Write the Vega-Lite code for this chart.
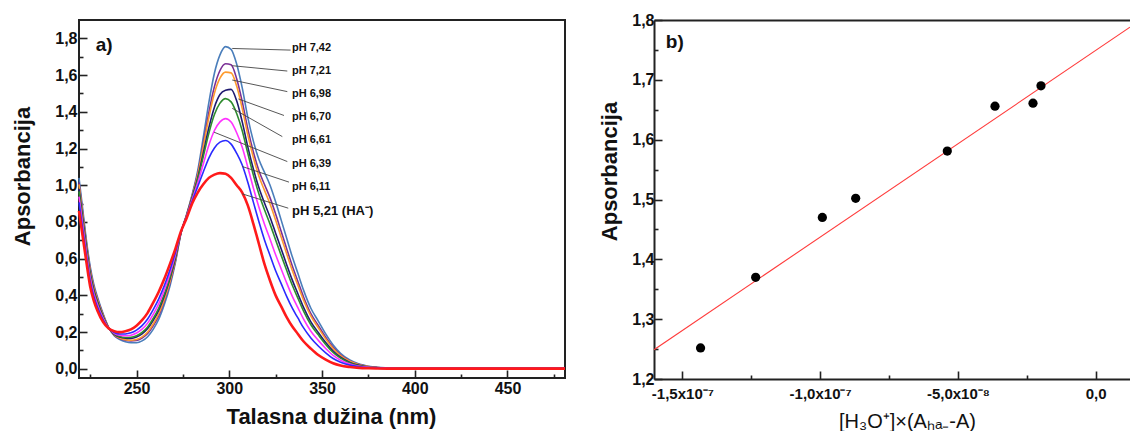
{
"$schema":"https://vega.github.io/schema/vega-lite/v6.json",
"padding":{"left":10,"top":12,"right":0,"bottom":0},
"background":"white",
"spacing":26,
"config":{"font":"Liberation Sans","view":{"stroke":null}},
"datasets":{
"spectra":[
{"w":219,"p":"7,42","a":1.04},{"w":221,"p":"7,42","a":0.87},{"w":223,"p":"7,42","a":0.70},{"w":225,"p":"7,42","a":0.56},{"w":227,"p":"7,42","a":0.46},{"w":229,"p":"7,42","a":0.39},{"w":232,"p":"7,42","a":0.30},{"w":235,"p":"7,42","a":0.225},{"w":238,"p":"7,42","a":0.18},{"w":241,"p":"7,42","a":0.16},{"w":244,"p":"7,42","a":0.148},{"w":247,"p":"7,42","a":0.142},{"w":250,"p":"7,42","a":0.142},{"w":253,"p":"7,42","a":0.152},{"w":256,"p":"7,42","a":0.175},{"w":259,"p":"7,42","a":0.215},{"w":262,"p":"7,42","a":0.27},{"w":265,"p":"7,42","a":0.35},{"w":268,"p":"7,42","a":0.45},{"w":271,"p":"7,42","a":0.58},{"w":274,"p":"7,42","a":0.74},{"w":277,"p":"7,42","a":0.84},{"w":280,"p":"7,42","a":0.95},{"w":283,"p":"7,42","a":1.08},{"w":286,"p":"7,42","a":1.26},{"w":289,"p":"7,42","a":1.45},{"w":292,"p":"7,42","a":1.61},{"w":295,"p":"7,42","a":1.71},{"w":298,"p":"7,42","a":1.755},{"w":301,"p":"7,42","a":1.74},{"w":304,"p":"7,42","a":1.66},{"w":307,"p":"7,42","a":1.53},{"w":310,"p":"7,42","a":1.37},{"w":313,"p":"7,42","a":1.24},{"w":316,"p":"7,42","a":1.14},{"w":319,"p":"7,42","a":1.07},{"w":322,"p":"7,42","a":1.00},{"w":325,"p":"7,42","a":0.91},{"w":328,"p":"7,42","a":0.81},{"w":331,"p":"7,42","a":0.71},{"w":334,"p":"7,42","a":0.61},{"w":337,"p":"7,42","a":0.52},{"w":340,"p":"7,42","a":0.43},{"w":344,"p":"7,42","a":0.33},{"w":348,"p":"7,42","a":0.26},{"w":352,"p":"7,42","a":0.19},{"w":356,"p":"7,42","a":0.13},{"w":360,"p":"7,42","a":0.085},{"w":365,"p":"7,42","a":0.048},{"w":370,"p":"7,42","a":0.026},{"w":375,"p":"7,42","a":0.014},{"w":380,"p":"7,42","a":0.008},{"w":390,"p":"7,42","a":0.004},{"w":400,"p":"7,42","a":0.003},{"w":440,"p":"7,42","a":0.003},{"w":481,"p":"7,42","a":0.003},
{"w":219,"p":"7,21","a":1.016},{"w":221,"p":"7,21","a":0.85},{"w":223,"p":"7,21","a":0.684},{"w":225,"p":"7,21","a":0.545},{"w":227,"p":"7,21","a":0.448},{"w":229,"p":"7,21","a":0.38},{"w":232,"p":"7,21","a":0.294},{"w":235,"p":"7,21","a":0.224},{"w":238,"p":"7,21","a":0.183},{"w":241,"p":"7,21","a":0.165},{"w":244,"p":"7,21","a":0.156},{"w":247,"p":"7,21","a":0.152},{"w":250,"p":"7,21","a":0.154},{"w":253,"p":"7,21","a":0.167},{"w":256,"p":"7,21","a":0.192},{"w":259,"p":"7,21","a":0.234},{"w":262,"p":"7,21","a":0.29},{"w":265,"p":"7,21","a":0.369},{"w":268,"p":"7,21","a":0.466},{"w":271,"p":"7,21","a":0.59},{"w":274,"p":"7,21","a":0.741},{"w":277,"p":"7,21","a":0.837},{"w":280,"p":"7,21","a":0.943},{"w":283,"p":"7,21","a":1.064},{"w":286,"p":"7,21","a":1.226},{"w":289,"p":"7,21","a":1.396},{"w":292,"p":"7,21","a":1.537},{"w":295,"p":"7,21","a":1.625},{"w":298,"p":"7,21","a":1.662},{"w":301,"p":"7,21","a":1.656},{"w":304,"p":"7,21","a":1.58},{"w":307,"p":"7,21","a":1.455},{"w":310,"p":"7,21","a":1.307},{"w":313,"p":"7,21","a":1.181},{"w":316,"p":"7,21","a":1.079},{"w":319,"p":"7,21","a":1.004},{"w":322,"p":"7,21","a":0.931},{"w":325,"p":"7,21","a":0.843},{"w":328,"p":"7,21","a":0.748},{"w":331,"p":"7,21","a":0.653},{"w":334,"p":"7,21","a":0.56},{"w":337,"p":"7,21","a":0.476},{"w":340,"p":"7,21","a":0.393},{"w":344,"p":"7,21","a":0.301},{"w":348,"p":"7,21","a":0.236},{"w":352,"p":"7,21","a":0.172},{"w":356,"p":"7,21","a":0.117},{"w":360,"p":"7,21","a":0.076},{"w":365,"p":"7,21","a":0.043},{"w":370,"p":"7,21","a":0.023},{"w":375,"p":"7,21","a":0.013},{"w":380,"p":"7,21","a":0.007},{"w":390,"p":"7,21","a":0.004},{"w":400,"p":"7,21","a":0.003},{"w":440,"p":"7,21","a":0.003},{"w":481,"p":"7,21","a":0.003},
{"w":219,"p":"6,98","a":1.005},{"w":221,"p":"6,98","a":0.84},{"w":223,"p":"6,98","a":0.676},{"w":225,"p":"6,98","a":0.538},{"w":227,"p":"6,98","a":0.442},{"w":229,"p":"6,98","a":0.375},{"w":232,"p":"6,98","a":0.291},{"w":235,"p":"6,98","a":0.224},{"w":238,"p":"6,98","a":0.185},{"w":241,"p":"6,98","a":0.168},{"w":244,"p":"6,98","a":0.159},{"w":247,"p":"6,98","a":0.156},{"w":250,"p":"6,98","a":0.16},{"w":253,"p":"6,98","a":0.174},{"w":256,"p":"6,98","a":0.201},{"w":259,"p":"6,98","a":0.244},{"w":262,"p":"6,98","a":0.30},{"w":265,"p":"6,98","a":0.378},{"w":268,"p":"6,98","a":0.474},{"w":271,"p":"6,98","a":0.595},{"w":274,"p":"6,98","a":0.742},{"w":277,"p":"6,98","a":0.836},{"w":280,"p":"6,98","a":0.94},{"w":283,"p":"6,98","a":1.056},{"w":286,"p":"6,98","a":1.21},{"w":289,"p":"6,98","a":1.369},{"w":292,"p":"6,98","a":1.501},{"w":295,"p":"6,98","a":1.583},{"w":298,"p":"6,98","a":1.616},{"w":301,"p":"6,98","a":1.612},{"w":304,"p":"6,98","a":1.54},{"w":307,"p":"6,98","a":1.418},{"w":310,"p":"6,98","a":1.275},{"w":313,"p":"6,98","a":1.151},{"w":316,"p":"6,98","a":1.049},{"w":319,"p":"6,98","a":0.972},{"w":322,"p":"6,98","a":0.898},{"w":325,"p":"6,98","a":0.81},{"w":328,"p":"6,98","a":0.717},{"w":331,"p":"6,98","a":0.625},{"w":334,"p":"6,98","a":0.535},{"w":337,"p":"6,98","a":0.455},{"w":340,"p":"6,98","a":0.375},{"w":344,"p":"6,98","a":0.287},{"w":348,"p":"6,98","a":0.224},{"w":352,"p":"6,98","a":0.162},{"w":356,"p":"6,98","a":0.11},{"w":360,"p":"6,98","a":0.072},{"w":365,"p":"6,98","a":0.041},{"w":370,"p":"6,98","a":0.022},{"w":375,"p":"6,98","a":0.012},{"w":380,"p":"6,98","a":0.007},{"w":390,"p":"6,98","a":0.004},{"w":400,"p":"6,98","a":0.003},{"w":440,"p":"6,98","a":0.003},{"w":481,"p":"6,98","a":0.003},
{"w":219,"p":"6,70","a":0.98},{"w":221,"p":"6,70","a":0.82},{"w":223,"p":"6,70","a":0.66},{"w":225,"p":"6,70","a":0.523},{"w":227,"p":"6,70","a":0.43},{"w":229,"p":"6,70","a":0.365},{"w":232,"p":"6,70","a":0.285},{"w":235,"p":"6,70","a":0.223},{"w":238,"p":"6,70","a":0.188},{"w":241,"p":"6,70","a":0.173},{"w":244,"p":"6,70","a":0.167},{"w":247,"p":"6,70","a":0.166},{"w":250,"p":"6,70","a":0.173},{"w":253,"p":"6,70","a":0.19},{"w":256,"p":"6,70","a":0.219},{"w":259,"p":"6,70","a":0.264},{"w":262,"p":"6,70","a":0.32},{"w":265,"p":"6,70","a":0.397},{"w":268,"p":"6,70","a":0.49},{"w":271,"p":"6,70","a":0.605},{"w":274,"p":"6,70","a":0.743},{"w":277,"p":"6,70","a":0.833},{"w":280,"p":"6,70","a":0.933},{"w":283,"p":"6,70","a":1.04},{"w":286,"p":"6,70","a":1.175},{"w":289,"p":"6,70","a":1.313},{"w":292,"p":"6,70","a":1.425},{"w":295,"p":"6,70","a":1.494},{"w":298,"p":"6,70","a":1.517},{"w":301,"p":"6,70","a":1.522},{"w":304,"p":"6,70","a":1.46},{"w":307,"p":"6,70","a":1.345},{"w":310,"p":"6,70","a":1.209},{"w":313,"p":"6,70","a":1.089},{"w":316,"p":"6,70","a":0.986},{"w":319,"p":"6,70","a":0.903},{"w":322,"p":"6,70","a":0.826},{"w":325,"p":"6,70","a":0.739},{"w":328,"p":"6,70","a":0.653},{"w":331,"p":"6,70","a":0.566},{"w":334,"p":"6,70","a":0.483},{"w":337,"p":"6,70","a":0.409},{"w":340,"p":"6,70","a":0.336},{"w":344,"p":"6,70","a":0.256},{"w":348,"p":"6,70","a":0.198},{"w":352,"p":"6,70","a":0.143},{"w":356,"p":"6,70","a":0.097},{"w":360,"p":"6,70","a":0.063},{"w":365,"p":"6,70","a":0.035},{"w":370,"p":"6,70","a":0.019},{"w":375,"p":"6,70","a":0.01},{"w":380,"p":"6,70","a":0.006},{"w":390,"p":"6,70","a":0.003},{"w":400,"p":"6,70","a":0.003},{"w":440,"p":"6,70","a":0.003},{"w":481,"p":"6,70","a":0.003},
{"w":219,"p":"6,61","a":0.967},{"w":221,"p":"6,61","a":0.809},{"w":223,"p":"6,61","a":0.651},{"w":225,"p":"6,61","a":0.515},{"w":227,"p":"6,61","a":0.423},{"w":229,"p":"6,61","a":0.359},{"w":232,"p":"6,61","a":0.282},{"w":235,"p":"6,61","a":0.223},{"w":238,"p":"6,61","a":0.19},{"w":241,"p":"6,61","a":0.176},{"w":244,"p":"6,61","a":0.171},{"w":247,"p":"6,61","a":0.172},{"w":250,"p":"6,61","a":0.18},{"w":253,"p":"6,61","a":0.198},{"w":256,"p":"6,61","a":0.228},{"w":259,"p":"6,61","a":0.274},{"w":262,"p":"6,61","a":0.331},{"w":265,"p":"6,61","a":0.407},{"w":268,"p":"6,61","a":0.499},{"w":271,"p":"6,61","a":0.611},{"w":274,"p":"6,61","a":0.744},{"w":277,"p":"6,61","a":0.832},{"w":280,"p":"6,61","a":0.93},{"w":283,"p":"6,61","a":1.031},{"w":286,"p":"6,61","a":1.156},{"w":289,"p":"6,61","a":1.283},{"w":292,"p":"6,61","a":1.385},{"w":295,"p":"6,61","a":1.447},{"w":298,"p":"6,61","a":1.472},{"w":301,"p":"6,61","a":1.454},{"w":304,"p":"6,61","a":1.391},{"w":307,"p":"6,61","a":1.297},{"w":310,"p":"6,61","a":1.174},{"w":313,"p":"6,61","a":1.056},{"w":316,"p":"6,61","a":0.952},{"w":319,"p":"6,61","a":0.866},{"w":322,"p":"6,61","a":0.788},{"w":325,"p":"6,61","a":0.702},{"w":328,"p":"6,61","a":0.618},{"w":331,"p":"6,61","a":0.535},{"w":334,"p":"6,61","a":0.455},{"w":337,"p":"6,61","a":0.385},{"w":340,"p":"6,61","a":0.316},{"w":344,"p":"6,61","a":0.24},{"w":348,"p":"6,61","a":0.185},{"w":352,"p":"6,61","a":0.133},{"w":356,"p":"6,61","a":0.089},{"w":360,"p":"6,61","a":0.058},{"w":365,"p":"6,61","a":0.032},{"w":370,"p":"6,61","a":0.017},{"w":375,"p":"6,61","a":0.01},{"w":380,"p":"6,61","a":0.006},{"w":390,"p":"6,61","a":0.003},{"w":400,"p":"6,61","a":0.003},{"w":440,"p":"6,61","a":0.003},{"w":481,"p":"6,61","a":0.003},
{"w":219,"p":"6,39","a":0.938},{"w":221,"p":"6,39","a":0.785},{"w":223,"p":"6,39","a":0.632},{"w":225,"p":"6,39","a":0.498},{"w":227,"p":"6,39","a":0.409},{"w":229,"p":"6,39","a":0.348},{"w":232,"p":"6,39","a":0.275},{"w":235,"p":"6,39","a":0.222},{"w":238,"p":"6,39","a":0.194},{"w":241,"p":"6,39","a":0.183},{"w":244,"p":"6,39","a":0.18},{"w":247,"p":"6,39","a":0.183},{"w":250,"p":"6,39","a":0.195},{"w":253,"p":"6,39","a":0.216},{"w":256,"p":"6,39","a":0.249},{"w":259,"p":"6,39","a":0.297},{"w":262,"p":"6,39","a":0.355},{"w":265,"p":"6,39","a":0.429},{"w":268,"p":"6,39","a":0.518},{"w":271,"p":"6,39","a":0.622},{"w":274,"p":"6,39","a":0.746},{"w":277,"p":"6,39","a":0.829},{"w":280,"p":"6,39","a":0.922},{"w":283,"p":"6,39","a":1.012},{"w":286,"p":"6,39","a":1.116},{"w":289,"p":"6,39","a":1.218},{"w":292,"p":"6,39","a":1.298},{"w":295,"p":"6,39","a":1.345},{"w":298,"p":"6,39","a":1.363},{"w":301,"p":"6,39","a":1.344},{"w":304,"p":"6,39","a":1.286},{"w":307,"p":"6,39","a":1.207},{"w":310,"p":"6,39","a":1.098},{"w":313,"p":"6,39","a":0.985},{"w":316,"p":"6,39","a":0.88},{"w":319,"p":"6,39","a":0.787},{"w":322,"p":"6,39","a":0.706},{"w":325,"p":"6,39","a":0.621},{"w":328,"p":"6,39","a":0.544},{"w":331,"p":"6,39","a":0.467},{"w":334,"p":"6,39","a":0.395},{"w":337,"p":"6,39","a":0.333},{"w":340,"p":"6,39","a":0.272},{"w":344,"p":"6,39","a":0.205},{"w":348,"p":"6,39","a":0.155},{"w":352,"p":"6,39","a":0.111},{"w":356,"p":"6,39","a":0.073},{"w":360,"p":"6,39","a":0.047},{"w":365,"p":"6,39","a":0.026},{"w":370,"p":"6,39","a":0.014},{"w":375,"p":"6,39","a":0.008},{"w":380,"p":"6,39","a":0.005},{"w":390,"p":"6,39","a":0.003},{"w":400,"p":"6,39","a":0.003},{"w":440,"p":"6,39","a":0.003},{"w":481,"p":"6,39","a":0.003},
{"w":219,"p":"6,11","a":0.907},{"w":221,"p":"6,11","a":0.759},{"w":223,"p":"6,11","a":0.612},{"w":225,"p":"6,11","a":0.479},{"w":227,"p":"6,11","a":0.394},{"w":229,"p":"6,11","a":0.335},{"w":232,"p":"6,11","a":0.267},{"w":235,"p":"6,11","a":0.221},{"w":238,"p":"6,11","a":0.198},{"w":241,"p":"6,11","a":0.19},{"w":244,"p":"6,11","a":0.19},{"w":247,"p":"6,11","a":0.196},{"w":250,"p":"6,11","a":0.211},{"w":253,"p":"6,11","a":0.235},{"w":256,"p":"6,11","a":0.271},{"w":259,"p":"6,11","a":0.322},{"w":262,"p":"6,11","a":0.381},{"w":265,"p":"6,11","a":0.453},{"w":268,"p":"6,11","a":0.538},{"w":271,"p":"6,11","a":0.635},{"w":274,"p":"6,11","a":0.747},{"w":277,"p":"6,11","a":0.825},{"w":280,"p":"6,11","a":0.913},{"w":283,"p":"6,11","a":0.992},{"w":286,"p":"6,11","a":1.072},{"w":289,"p":"6,11","a":1.148},{"w":292,"p":"6,11","a":1.203},{"w":295,"p":"6,11","a":1.235},{"w":298,"p":"6,11","a":1.244},{"w":301,"p":"6,11","a":1.224},{"w":304,"p":"6,11","a":1.174},{"w":307,"p":"6,11","a":1.11},{"w":310,"p":"6,11","a":1.016},{"w":313,"p":"6,11","a":0.908},{"w":316,"p":"6,11","a":0.801},{"w":319,"p":"6,11","a":0.702},{"w":322,"p":"6,11","a":0.617},{"w":325,"p":"6,11","a":0.534},{"w":328,"p":"6,11","a":0.464},{"w":331,"p":"6,11","a":0.393},{"w":334,"p":"6,11","a":0.33},{"w":337,"p":"6,11","a":0.277},{"w":340,"p":"6,11","a":0.224},{"w":344,"p":"6,11","a":0.168},{"w":348,"p":"6,11","a":0.124},{"w":352,"p":"6,11","a":0.087},{"w":356,"p":"6,11","a":0.056},{"w":360,"p":"6,11","a":0.036},{"w":365,"p":"6,11","a":0.02},{"w":370,"p":"6,11","a":0.011},{"w":375,"p":"6,11","a":0.006},{"w":380,"p":"6,11","a":0.004},{"w":390,"p":"6,11","a":0.002},{"w":400,"p":"6,11","a":0.002},{"w":440,"p":"6,11","a":0.002},{"w":481,"p":"6,11","a":0.002},
{"w":219,"p":"5,21","a":0.86},{"w":221,"p":"5,21","a":0.72},{"w":223,"p":"5,21","a":0.58},{"w":225,"p":"5,21","a":0.45},{"w":227,"p":"5,21","a":0.37},{"w":229,"p":"5,21","a":0.315},{"w":232,"p":"5,21","a":0.255},{"w":235,"p":"5,21","a":0.22},{"w":238,"p":"5,21","a":0.205},{"w":241,"p":"5,21","a":0.2},{"w":244,"p":"5,21","a":0.205},{"w":247,"p":"5,21","a":0.215},{"w":250,"p":"5,21","a":0.235},{"w":253,"p":"5,21","a":0.265},{"w":256,"p":"5,21","a":0.305},{"w":259,"p":"5,21","a":0.36},{"w":262,"p":"5,21","a":0.42},{"w":265,"p":"5,21","a":0.49},{"w":268,"p":"5,21","a":0.57},{"w":271,"p":"5,21","a":0.655},{"w":274,"p":"5,21","a":0.75},{"w":277,"p":"5,21","a":0.82},{"w":280,"p":"5,21","a":0.9},{"w":283,"p":"5,21","a":0.96},{"w":286,"p":"5,21","a":1.005},{"w":289,"p":"5,21","a":1.04},{"w":292,"p":"5,21","a":1.058},{"w":295,"p":"5,21","a":1.066},{"w":298,"p":"5,21","a":1.062},{"w":301,"p":"5,21","a":1.04},{"w":304,"p":"5,21","a":1.0},{"w":307,"p":"5,21","a":0.96},{"w":310,"p":"5,21","a":0.89},{"w":313,"p":"5,21","a":0.79},{"w":316,"p":"5,21","a":0.68},{"w":319,"p":"5,21","a":0.57},{"w":322,"p":"5,21","a":0.48},{"w":325,"p":"5,21","a":0.40},{"w":328,"p":"5,21","a":0.34},{"w":331,"p":"5,21","a":0.28},{"w":334,"p":"5,21","a":0.23},{"w":337,"p":"5,21","a":0.19},{"w":340,"p":"5,21","a":0.15},{"w":344,"p":"5,21","a":0.11},{"w":348,"p":"5,21","a":0.075},{"w":352,"p":"5,21","a":0.05},{"w":356,"p":"5,21","a":0.03},{"w":360,"p":"5,21","a":0.018},{"w":365,"p":"5,21","a":0.01},{"w":370,"p":"5,21","a":0.005},{"w":375,"p":"5,21","a":0.003},{"w":380,"p":"5,21","a":0.002},{"w":390,"p":"5,21","a":0.001},{"w":400,"p":"5,21","a":0.001},{"w":440,"p":"5,21","a":0.001},{"w":481,"p":"5,21","a":0.001}
],
"leaders":[
{"x1":301.6,"y1":1.745,"x2":333.1,"y2":1.736},
{"x1":301.6,"y1":1.651,"x2":331.3,"y2":1.622},
{"x1":301.6,"y1":1.573,"x2":331.3,"y2":1.51},
{"x1":304.9,"y1":1.47,"x2":329.5,"y2":1.38},
{"x1":301.6,"y1":1.419,"x2":328.6,"y2":1.265},
{"x1":291.8,"y1":1.289,"x2":331.3,"y2":1.129},
{"x1":307.0,"y1":1.102,"x2":332.2,"y2":1.017},
{"x1":307.0,"y1":0.953,"x2":331.8,"y2":0.875}
],
"phlabels":[
{"x":333.8,"y":1.7455,"t":"pH 7,42"},
{"x":333.8,"y":1.622,"t":"pH 7,21"},
{"x":333.8,"y":1.495,"t":"pH 6,98"},
{"x":333.8,"y":1.369,"t":"pH 6,70"},
{"x":333.8,"y":1.245,"t":"pH 6,61"},
{"x":333.8,"y":1.115,"t":"pH 6,39"},
{"x":333.8,"y":0.988,"t":"pH 6,11"},
{"x":333.8,"y":0.861,"t":"pH 5,21 (HA⁻)"}
],
"points":[
{"x":-1.434e-7,"y":1.252},{"x":-1.234e-7,"y":1.370},{"x":-0.992e-7,"y":1.470},{"x":-0.871e-7,"y":1.502},{"x":-0.5385e-7,"y":1.581},{"x":-0.3654e-7,"y":1.656},{"x":-0.2275e-7,"y":1.661},{"x":-0.1985e-7,"y":1.690}
],
"fit":[{"x":-1.603e-7,"y":1.249},{"x":1.246e-8,"y":1.788}]
},
"hconcat":[
{
"width":486,"height":358,
"view":{"stroke":"#222","strokeWidth":2},
"resolve":{"axis":{"x":"independent","y":"independent"}},
"layer":[
{"data":{"name":"spectra"},
"mark":{"type":"line","interpolate":"monotone"},
"encoding":{
"x":{"field":"w","type":"quantitative","title":"Talasna dužina (nm)","scale":{"domain":[219,481],"nice":false,"zero":false},
"axis":{"orient":"bottom","values":[225,250,275,300,325,350,375,400,425,450,475],"labelOverlap":false,"labelExpr":"datum.value % 50 == 0 ? datum.label : ''","tickSize":{"condition":{"test":"datum.value % 50 == 0","value":-8},"value":-4},"labelPadding":10,"domain":false,"grid":false,"tickColor":"#222","tickWidth":1.6,"labelFontSize":16,"labelFontWeight":"bold","labelColor":"#111","titleFontSize":22,"titleFontWeight":"bold","titleColor":"#111","titlePadding":6,"titleX":252}},
"y":{"field":"a","type":"quantitative","title":"Apsorbancija","scale":{"domain":[-0.05,1.9],"nice":false,"zero":false},
"axis":{"orient":"left","values":[0,0.1,0.2,0.3,0.4,0.5,0.6,0.7,0.8,0.9,1.0,1.1,1.2,1.3,1.4,1.5,1.6,1.7,1.8],"labelOverlap":false,"labelExpr":"round(datum.value*10) % 2 == 0 ? replace(format(datum.value, '.1f'), '.', ',') : ''","tickSize":{"condition":{"test":"round(datum.value*10) % 2 == 0","value":-8},"value":-4},"labelPadding":10,"domain":false,"grid":false,"tickColor":"#222","tickWidth":1.6,"labelFontSize":16,"labelFontWeight":"bold","labelColor":"#111","titleFontSize":22,"titleFontWeight":"bold","titleColor":"#111","titlePadding":20,"titleY":156}},
"color":{"field":"p","type":"nominal","legend":null,"scale":{"domain":["7,42","7,21","6,98","6,70","6,61","6,39","6,11","5,21"],"range":["#4a7ebb","#7a2f96","#ff9a2e","#1f1a70","#2e8b2e","#ff33ff","#2a2aff","#ff1a1a"]}},
"strokeWidth":{"condition":{"test":"datum.p == '5,21'","value":2.6},"value":1.6}
}},
{"data":{"name":"leaders"},
"mark":{"type":"rule","color":"#444","strokeWidth":0.9},
"encoding":{"x":{"field":"x1","type":"quantitative","axis":null},"x2":{"field":"x2"},"y":{"field":"y1","type":"quantitative","axis":null},"y2":{"field":"y2"}}},
{"data":{"name":"phlabels"},
"mark":{"type":"text","align":"left","baseline":"middle","fontWeight":"bold","color":"#111"},
"encoding":{"x":{"field":"x","type":"quantitative","axis":null},"y":{"field":"y","type":"quantitative","axis":null},"text":{"field":"t"},
"size":{"condition":{"test":"datum.t == 'pH 5,21 (HA⁻)'","value":13},"value":11}}},
{"data":{"values":[{"x":228,"y":1.763,"t":"a)"}]},
"mark":{"type":"text","align":"left","baseline":"middle","fontWeight":"bold","fontSize":19,"color":"#111"},
"encoding":{"x":{"field":"x","type":"quantitative","axis":null},"y":{"field":"y","type":"quantitative","axis":null},"text":{"field":"t"}}}
]
},
{
"width":476,"height":359,
"resolve":{"axis":{"x":"independent","y":"independent"}},
"layer":[
{"data":{"name":"fit"},
"mark":{"type":"line","color":"#ff3b3b","strokeWidth":1.1,"clip":true},
"encoding":{"x":{"field":"x","type":"quantitative","title":"[H₃O⁺]×(Aₕₐ₋-A)","scale":{"domain":[-1.603e-7,1.246e-8],"nice":false,"zero":false},
"axis":{"orient":"bottom","values":[-1.5e-7,-1.25e-7,-1e-7,-7.5e-8,-5e-8,-2.5e-8,0],"labelOverlap":false,"labelExpr":"round(datum.value*1e9) == -150 ? '-1,5x10⁻⁷' : round(datum.value*1e9) == -100 ? '-1,0x10⁻⁷' : round(datum.value*1e9) == -50 ? '-5,0x10⁻⁸' : round(datum.value*1e9) == 0 ? '0,0' : ''","tickSize":{"condition":{"test":"round(datum.value*1e9) % 50 == 0","value":-8},"value":-4},"labelPadding":15,"domain":true,"domainWidth":2,"domainColor":"#222","grid":false,"tickColor":"#222","tickWidth":1.6,"labelFontSize":15,"labelFontWeight":"bold","labelColor":"#111","titleFontSize":20,"titleFontWeight":"normal","titleColor":"#111","titlePadding":6,"titleX":253}},
"y":{"field":"y","type":"quantitative","title":"Apsorbancija","scale":{"domain":[1.2,1.8],"nice":false,"zero":false},
"axis":{"orient":"left","values":[1.2,1.25,1.3,1.35,1.4,1.45,1.5,1.55,1.6,1.65,1.7,1.75,1.8],"labelOverlap":false,"labelExpr":"round(datum.value*100) % 10 == 0 ? replace(format(datum.value, '.1f'), '.', ',') : ''","tickSize":{"condition":{"test":"round(datum.value*100) % 10 == 0","value":-8},"value":-4},"labelPadding":8,"domain":true,"domainWidth":2,"domainColor":"#222","grid":false,"tickColor":"#222","tickWidth":1.6,"labelFontSize":16,"labelFontWeight":"bold","labelColor":"#111","titleFontSize":22,"titleFontWeight":"bold","titleColor":"#111","titlePadding":10,"titleY":151}}}},
{"data":{"name":"points"},
"mark":{"type":"point","filled":true,"color":"#000","opacity":1,"size":85},
"encoding":{
"x":{"field":"x","type":"quantitative","axis":null},
"y":{"field":"y","type":"quantitative","axis":null}}},
{"data":{"values":[{"x":-1.56e-7,"y":1.764,"t":"b)"}]},
"mark":{"type":"text","align":"left","baseline":"middle","fontWeight":"bold","fontSize":19,"color":"#111"},
"encoding":{"x":{"field":"x","type":"quantitative","axis":{"orient":"top","labels":false,"ticks":false,"title":null,"domain":true,"domainWidth":2,"domainColor":"#222","grid":false}},"y":{"field":"y","type":"quantitative","axis":null},"text":{"field":"t"}}}
]
}
]
}
